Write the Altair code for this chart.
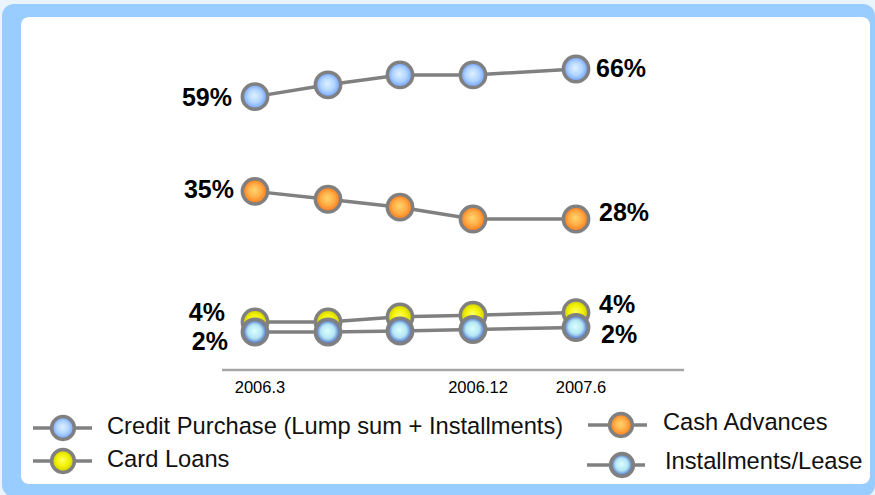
import altair as alt
import pandas as pd

# ---- data ----
periods = [0, 1, 2, 3, 4]
tick_periods = [0, 3, 4]
tick_labels = ["2006.3", "2006.12", "2007.6"]

series_names = [
    "Credit Purchase (Lump sum + Installments)",
    "Cash Advances",
    "Card Loans",
    "Installments/Lease",
]
credit = [59, 62, 64.5, 64.5, 66]
cash = [35, 33, 31, 28, 28]
card = [4, 4, 5.2, 5.6, 6.2]
inst = [2, 2, 2.2, 2.5, 2.9]
series_values = [credit, cash, card, inst]

start_labels = ["59%", "35%", "4%", "2%"]
end_labels = ["66%", "28%", "4%", "2%"]

# ---- styles ----
FONT = "Liberation Sans"
GREY = "#808080"

def radial(inner, mid, outer):
    return alt.RadialGradient(
        gradient="radial",
        x1=0.47, y1=0.45, r1=0.0,
        x2=0.5, y2=0.5, r2=0.5,
        stops=[alt.GradientStop(color=inner, offset=0),
               alt.GradientStop(color=mid, offset=0.55),
               alt.GradientStop(color=outer, offset=1)],
    )

fills = [
    radial("#e0f0ff", "#b0d4ff", "#6a9cff"),
    radial("#ffd66e", "#ffac45", "#ff7515"),
    radial("#ffff66", "#f2f200", "#c8c800"),
    radial("#dcffff", "#b4e6f4", "#3a58b8"),
]

# label offsets (styling)
start_dx = [-23, -21, -30, -27]
start_dy = [1, -1, -9.5, 10]
end_dx = [20, 23, 23, 25]
end_dy = [0, -6.5, -8, 7.5]

# legend layout (styling)
legend_pos = [
    # marker x, marker y, line x1, line x2, text x, text y
    (63, 428, 33, 92, 107, 427),
    (621, 425, 588, 647, 663, 423),
    (63, 461, 33, 92, 107, 460),
    (622, 465, 587, 645, 665, 462),
]

xs = alt.Scale(domain=[0, 1, 2, 3, 4], range=[255, 328, 400, 473, 576], nice=False, zero=False)
ys = alt.Scale(domain=[2, 4, 28, 66], range=[332, 322, 219, 69], nice=False, zero=False)

dummy = pd.DataFrame({"a": [0]})

layers = []

# background frame
layers.append(
    alt.Chart(dummy).mark_rect(fill="#99ccff", cornerRadius=12).encode(
        x=alt.value(2), x2=alt.value(875), y=alt.value(4), y2=alt.value(497)
    )
)
layers.append(
    alt.Chart(dummy).mark_rect(fill="#ffffff", cornerRadius=8).encode(
        x=alt.value(21), x2=alt.value(870), y=alt.value(17), y2=alt.value(484)
    )
)

# axis line
layers.append(
    alt.Chart(dummy).mark_rule(color="#a6a6a6", strokeWidth=2.5).encode(
        x=alt.value(222), x2=alt.value(684), y=alt.value(370)
    )
)

# tick labels
ticks_df = pd.DataFrame({"p": tick_periods, "t": tick_labels})
layers.append(
    alt.Chart(ticks_df).mark_text(font=FONT, fontSize=16.5, color="#000000", dx=5, baseline="middle").encode(
        x=alt.X("p:Q", scale=xs, axis=None),
        y=alt.value(388),
        text="t:N",
    )
)

# series
for i, name in enumerate(series_names):
    df = pd.DataFrame({"p": periods, "v": series_values[i], "s": name})
    base = alt.Chart(df).encode(
        x=alt.X("p:Q", scale=xs, axis=None),
        y=alt.Y("v:Q", scale=ys, axis=None),
    )
    layers.append(base.mark_line(color=GREY, strokeWidth=3.5))
    layers.append(
        base.mark_point(shape="circle", filled=True, fill=fills[i], stroke=GREY,
                        strokeWidth=3.5, size=640, opacity=1)
    )

# value labels
for i, name in enumerate(series_names):
    vals = series_values[i]
    sdf = pd.DataFrame({"p": [periods[0]], "v": [vals[0]], "t": [start_labels[i]]})
    edf = pd.DataFrame({"p": [periods[-1]], "v": [vals[-1]], "t": [end_labels[i]]})
    layers.append(
        alt.Chart(sdf).mark_text(font=FONT, fontSize=25, fontWeight="bold", color="#000000",
                                 align="right", baseline="middle", dx=start_dx[i], dy=start_dy[i]).encode(
            x=alt.X("p:Q", scale=xs, axis=None), y=alt.Y("v:Q", scale=ys, axis=None), text="t:N")
    )
    layers.append(
        alt.Chart(edf).mark_text(font=FONT, fontSize=25, fontWeight="bold", color="#000000",
                                 align="left", baseline="middle", dx=end_dx[i], dy=end_dy[i]).encode(
            x=alt.X("p:Q", scale=xs, axis=None), y=alt.Y("v:Q", scale=ys, axis=None), text="t:N")
    )

# legend
for i, name in enumerate(series_names):
    mx, my, lx1, lx2, tx, ty = legend_pos[i]
    layers.append(
        alt.Chart(dummy).mark_rule(color=GREY, strokeWidth=3.5).encode(
            x=alt.value(lx1), x2=alt.value(lx2), y=alt.value(my))
    )
    layers.append(
        alt.Chart(dummy).mark_point(shape="circle", filled=True, fill=fills[i], stroke=GREY,
                                    strokeWidth=3.5, size=520, opacity=1).encode(
            x=alt.value(mx), y=alt.value(my))
    )
    ldf = pd.DataFrame({"t": [name]})
    layers.append(
        alt.Chart(ldf).mark_text(font=FONT, fontSize=23.7, color="#111111", align="left",
                                 baseline="middle").encode(
            x=alt.value(tx), y=alt.value(ty), text="t:N")
    )

chart = alt.layer(*layers).properties(
    width=875, height=495, autosize="none", padding=0, background="#eaf4fc"
).configure_view(stroke=None)

chart.save("out.html", embed_options={"renderer": "svg", "actions": False})
